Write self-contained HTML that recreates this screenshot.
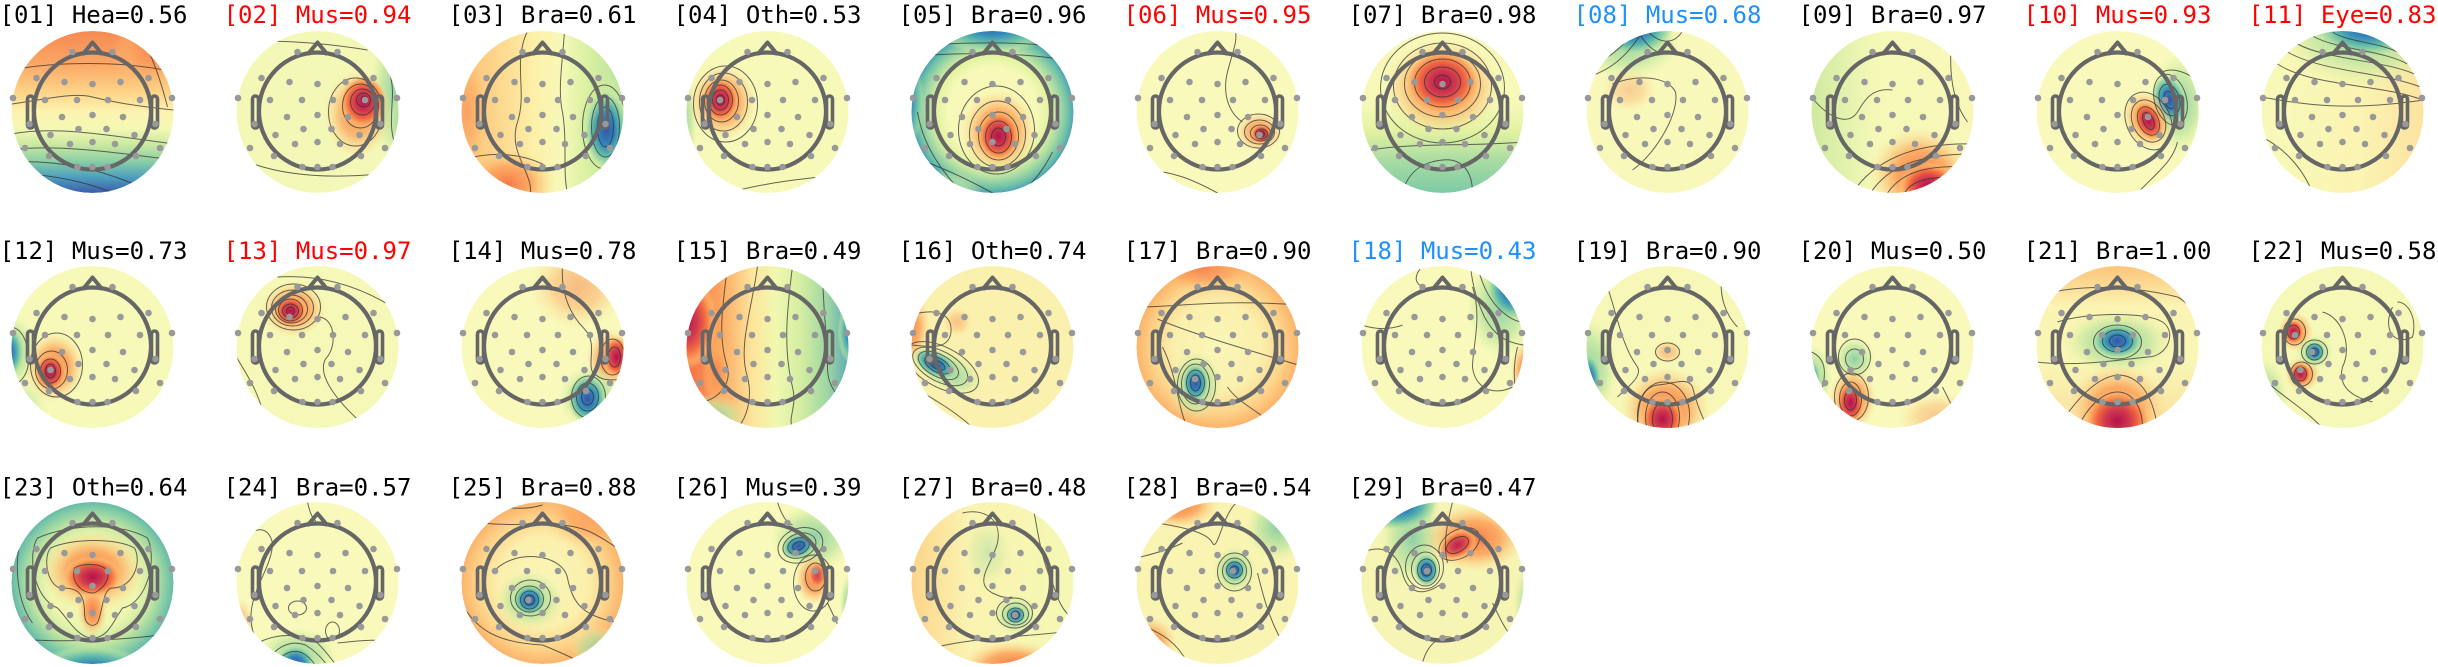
<!DOCTYPE html>
<html><head><meta charset="utf-8"><style>
html,body{margin:0;padding:0;background:#fff;width:2438px;height:667px;overflow:hidden;}
svg{display:block;position:absolute;left:0;top:0;}
.t{font-family:"DejaVu Sans Mono","Liberation Mono",monospace;font-size:24px;text-anchor:middle;}
.k{fill:none;stroke:#333;stroke-width:1;opacity:.75;}
</style></head><body>
<svg width="2438" height="667" viewBox="0 0 2438 667" xmlns="http://www.w3.org/2000/svg" overflow="hidden">
<defs>
<clipPath id="c"><circle r="81"/></clipPath>
<radialGradient id="R"><stop offset="0" stop-color="#b3124b"/><stop offset=".38" stop-color="#d23b4e"/><stop offset=".62" stop-color="#f26a41"/><stop offset=".82" stop-color="#fca85f" stop-opacity=".85"/><stop offset="1" stop-color="#fdd888" stop-opacity="0"/></radialGradient>
<radialGradient id="O"><stop offset="0" stop-color="#f67a4a"/><stop offset=".5" stop-color="#fca55d" stop-opacity=".9"/><stop offset="1" stop-color="#fdd98b" stop-opacity="0"/></radialGradient>
<radialGradient id="B"><stop offset="0" stop-color="#3a54a4"/><stop offset=".38" stop-color="#3385bc"/><stop offset=".62" stop-color="#5cb8a9"/><stop offset=".84" stop-color="#a5daa3" stop-opacity=".75"/><stop offset="1" stop-color="#d5efa0" stop-opacity="0"/></radialGradient>
<radialGradient id="G"><stop offset="0" stop-color="#8ccfa5"/><stop offset=".6" stop-color="#bfe5a0" stop-opacity=".75"/><stop offset="1" stop-color="#e0f3a0" stop-opacity="0"/></radialGradient>
<radialGradient id="u05" href="#B" gradientUnits="userSpaceOnUse" cx="0" cy="0" r="1" gradientTransform="translate(0 -90) scale(65 32)"/>
<radialGradient id="u11g" href="#G" gradientUnits="userSpaceOnUse" cx="0" cy="0" r="1" gradientTransform="translate(22 -85) scale(90 62)"/>
<radialGradient id="u11b" href="#B" gradientUnits="userSpaceOnUse" cx="0" cy="0" r="1" gradientTransform="translate(25 -88) scale(55 34)"/>
<radialGradient id="u23b" href="#B" gradientUnits="userSpaceOnUse" cx="0" cy="0" r="1" gradientTransform="translate(0 92) scale(60 30)"/>
<radialGradient id="u24g" href="#G" gradientUnits="userSpaceOnUse" cx="0" cy="0" r="1" gradientTransform="translate(-20 72) scale(40 27)"/>
<radialGradient id="u24b" href="#B" gradientUnits="userSpaceOnUse" cx="0" cy="0" r="1" gradientTransform="translate(-22 80) scale(20 18)"/>
<radialGradient id="u25g" href="#G" gradientUnits="userSpaceOnUse" cx="0" cy="0" r="1" gradientTransform="translate(55 65) scale(28 22)"/>
<radialGradient id="u27o" href="#O" gradientUnits="userSpaceOnUse" cx="0" cy="0" r="1" gradientTransform="translate(20 82) scale(52 24)"/>
<radialGradient id="u28o" href="#O" gradientUnits="userSpaceOnUse" cx="0" cy="0" r="1" gradientTransform="translate(-70 60) scale(30 27)"/>
<radialGradient id="ring"><stop offset="0" stop-color="#fbf6b4"/><stop offset=".55" stop-color="#f6f9b8"/><stop offset=".7" stop-color="#e2f3a1"/><stop offset=".84" stop-color="#a3d8a4"/><stop offset=".94" stop-color="#6dc0a7"/><stop offset="1" stop-color="#4ea3b6"/></radialGradient>
<radialGradient id="ring2"><stop offset="0" stop-color="#fbf4b2"/><stop offset=".55" stop-color="#eef6b0"/><stop offset=".75" stop-color="#c6e7a0"/><stop offset=".9" stop-color="#8bcfa5"/><stop offset="1" stop-color="#66bba9"/></radialGradient>
<radialGradient id="warm"><stop offset="0" stop-color="#f9f7b8"/><stop offset=".55" stop-color="#fbefac"/><stop offset=".8" stop-color="#fdd58b"/><stop offset="1" stop-color="#fcb46b"/></radialGradient>
<linearGradient id="L01" x1="0" y1="0" x2="0" y2="1"><stop offset="0" stop-color="#f68a52"/><stop offset=".2" stop-color="#fba765"/><stop offset=".38" stop-color="#fdd488"/><stop offset=".5" stop-color="#fdf3b0"/><stop offset=".6" stop-color="#f4f8b4"/><stop offset=".7" stop-color="#cbe9a1"/><stop offset=".8" stop-color="#8dd0a4"/><stop offset=".9" stop-color="#4ea1bd"/><stop offset="1" stop-color="#3b5eaa"/></linearGradient>
<linearGradient id="L03" x1="0" y1="0" x2="1" y2="0"><stop offset="0" stop-color="#fdbd72"/><stop offset=".45" stop-color="#fdf0a8"/><stop offset=".62" stop-color="#f6f9b8"/><stop offset=".8" stop-color="#d6ef9f"/><stop offset="1" stop-color="#b9e2a0"/></linearGradient>
<linearGradient id="L07" x1="0" y1="0" x2="0" y2="1"><stop offset="0" stop-color="#f8f8b8"/><stop offset=".45" stop-color="#f6f9b8"/><stop offset=".62" stop-color="#e3f2a2"/><stop offset=".8" stop-color="#a9dca3"/><stop offset="1" stop-color="#7ccaa6"/></linearGradient>
<linearGradient id="L09" x1="0" y1="0" x2="1" y2="0"><stop offset="0" stop-color="#cfeaa0"/><stop offset=".4" stop-color="#f5f9b8"/><stop offset="1" stop-color="#f9f7b8"/></linearGradient>
<linearGradient id="L11" x1="0" y1="0" x2="1" y2="0"><stop offset="0" stop-color="#f7f9b9"/><stop offset=".6" stop-color="#fbf4b2"/><stop offset="1" stop-color="#fde3a0"/></linearGradient>
<linearGradient id="L15" x1="0" y1="0" x2="1" y2="0"><stop offset="0" stop-color="#f36b45"/><stop offset=".2" stop-color="#fca35c"/><stop offset=".4" stop-color="#fde49a"/><stop offset=".55" stop-color="#f2f8b0"/><stop offset=".72" stop-color="#d0eca0"/><stop offset=".88" stop-color="#9ad4a4"/><stop offset="1" stop-color="#5fa8b4"/></linearGradient>
<linearGradient id="L21" x1="0" y1="0" x2="0" y2="1"><stop offset="0" stop-color="#fdc479"/><stop offset=".25" stop-color="#fbf4b3"/><stop offset=".6" stop-color="#f8f6b5"/><stop offset="1" stop-color="#fce0a0"/></linearGradient>
<linearGradient id="L27" x1="0" y1="0" x2="1" y2="0"><stop offset="0" stop-color="#fcd48a"/><stop offset=".35" stop-color="#fbf3b1"/><stop offset="1" stop-color="#f4f8b4"/></linearGradient>
<g id="hd">
<circle cy="-1" r="58.5" fill="none" stroke="#666" stroke-width="4.2"/>
<path d="M-10,-57.5 L0,-69.5 L10,-57.5" fill="none" stroke="#666" stroke-width="4" stroke-linejoin="round"/>
<rect x="-65" y="-16" width="6" height="32" rx="3" fill="none" stroke="#666" stroke-width="3.6"/>
<rect x="59" y="-16" width="6" height="32" rx="3" fill="none" stroke="#666" stroke-width="3.6"/>
<g fill="#999">
<circle cx="-20" cy="-60" r="3.3"/><circle cx="20" cy="-60" r="3.3"/>
<circle cx="-56" cy="-34" r="3.3"/><circle cx="56" cy="-34" r="3.3"/>
<circle cx="-28" cy="-30" r="3.3"/><circle cx="28" cy="-30" r="3.3"/><circle cx="0" cy="-28" r="3.3"/>
<circle cx="-79.5" cy="-14" r="3.3"/><circle cx="79.5" cy="-14" r="3.3"/>
<circle cx="-47.5" cy="-12" r="3.3"/><circle cx="47.5" cy="-12" r="3.3"/>
<circle cx="-15.5" cy="-12" r="3.3"/><circle cx="15.5" cy="-12" r="3.3"/>
<circle cx="-63" cy="12" r="3.3"/><circle cx="63" cy="12" r="3.3"/>
<circle cx="-30.5" cy="5" r="3.3"/><circle cx="30.5" cy="5" r="3.3"/><circle cx="0" cy="3" r="3.3"/>
<circle cx="-14" cy="17" r="3.3"/><circle cx="14" cy="17" r="3.3"/>
<circle cx="-42" cy="23" r="3.3"/><circle cx="42" cy="23" r="3.3"/>
<circle cx="-67.5" cy="36" r="3.3"/><circle cx="67.5" cy="36" r="3.3"/>
<circle cx="-22.5" cy="32" r="3.3"/><circle cx="22.5" cy="32" r="3.3"/><circle cx="0" cy="30" r="3.3"/>
<circle cx="-43.5" cy="44" r="3.3"/><circle cx="43.5" cy="44" r="3.3"/>
<circle cx="-15" cy="55" r="3.3"/><circle cx="15" cy="55" r="3.3"/><circle cx="0" cy="55" r="3.3"/>
</g>
</g>
</defs>
<rect width="2438" height="667" fill="#fff"/>

<g class="t">
<text x="93.5" y="23" fill="#000">[01] Hea=0.56</text>
<text x="317.5" y="23" fill="#f00">[02] Mus=0.94</text>
<text x="542.5" y="23" fill="#000">[03] Bra=0.61</text>
<text x="767.5" y="23" fill="#000">[04] Oth=0.53</text>
<text x="992.5" y="23" fill="#000">[05] Bra=0.96</text>
<text x="1217.5" y="23" fill="#f00">[06] Mus=0.95</text>
<text x="1442.5" y="23" fill="#000">[07] Bra=0.98</text>
<text x="1667.5" y="23" fill="#1e8fff">[08] Mus=0.68</text>
<text x="1892.5" y="23" fill="#000">[09] Bra=0.97</text>
<text x="2117.5" y="23" fill="#f00">[10] Mus=0.93</text>
<text x="2342.5" y="23" fill="#f00">[11] Eye=0.83</text>
<text x="93.5" y="259" fill="#000">[12] Mus=0.73</text>
<text x="317.5" y="259" fill="#f00">[13] Mus=0.97</text>
<text x="542.5" y="259" fill="#000">[14] Mus=0.78</text>
<text x="767.5" y="259" fill="#000">[15] Bra=0.49</text>
<text x="992.5" y="259" fill="#000">[16] Oth=0.74</text>
<text x="1217.5" y="259" fill="#000">[17] Bra=0.90</text>
<text x="1442.5" y="259" fill="#1e8fff">[18] Mus=0.43</text>
<text x="1667.5" y="259" fill="#000">[19] Bra=0.90</text>
<text x="1892.5" y="259" fill="#000">[20] Mus=0.50</text>
<text x="2117.5" y="259" fill="#000">[21] Bra=1.00</text>
<text x="2342.5" y="259" fill="#000">[22] Mus=0.58</text>
<text x="93.5" y="495.5" fill="#000">[23] Oth=0.64</text>
<text x="317.5" y="495.5" fill="#000">[24] Bra=0.57</text>
<text x="542.5" y="495.5" fill="#000">[25] Bra=0.88</text>
<text x="767.5" y="495.5" fill="#000">[26] Mus=0.39</text>
<text x="992.5" y="495.5" fill="#000">[27] Bra=0.48</text>
<text x="1217.5" y="495.5" fill="#000">[28] Bra=0.54</text>
<text x="1442.5" y="495.5" fill="#000">[29] Bra=0.47</text>
</g>

<!-- 01 -->
<g transform="translate(92.5,112)"><g clip-path="url(#c)">
<circle r="81" fill="url(#L01)"/>
<ellipse cx="60" cy="-60" rx="40" ry="40" fill="url(#O)" opacity=".6"/>
<path class="k" d="M-81,-42 C-40,-50 30,-52 81,-40 M-81,-8 C-50,-12 -20,-20 0,-15 S50,-5 81,-2 M-81,22 C-40,14 10,22 81,32 M-81,38 C-40,32 20,40 81,48 M-81,50 C-40,48 10,55 60,81 M-75,62 C-40,62 0,72 20,81 M50,-75 C62,-50 70,-25 75,-5"/>
</g><use href="#hd"/></g>

<!-- 02 -->
<g transform="translate(317.5,112)"><g clip-path="url(#c)">
<circle r="81" fill="#f4f8b7"/>
<ellipse cx="80" cy="-20" rx="28" ry="75" fill="url(#G)"/>
<ellipse cx="86" cy="10" rx="16" ry="32" fill="url(#G)"/>
<ellipse cx="40" cy="2" rx="34" ry="44" fill="url(#O)" opacity=".85"/>
<ellipse cx="46" cy="-10" rx="24" ry="27" fill="url(#R)"/>
<ellipse class="k" cx="47" cy="-13" rx="3" ry="3"/><ellipse class="k" cx="46" cy="-12" rx="7" ry="7"/><ellipse class="k" cx="45" cy="-10" rx="12" ry="13"/><ellipse class="k" cx="43" cy="-6" rx="18" ry="22"/><ellipse class="k" cx="38" cy="0" rx="27" ry="34"/>
<path class="k" d="M52,-81 C65,-60 75,-40 75,-20 C75,0 70,20 81,40 M62,-81 C75,-60 81,-40 81,-30 M-75,-70 C-40,-72 0,-70 50,-62 M-81,45 C-50,60 0,70 81,60"/>
</g><use href="#hd"/></g>

<!-- 03 -->
<g transform="translate(542.5,112)"><g clip-path="url(#c)">
<circle r="81" fill="url(#L03)"/>
<ellipse cx="-35" cy="72" rx="48" ry="35" fill="url(#O)"/>
<ellipse cx="-75" cy="0" rx="22" ry="60" fill="url(#O)" opacity=".45"/>
<ellipse cx="62" cy="15" rx="30" ry="50" fill="url(#G)"/>
<ellipse cx="64" cy="18" rx="22" ry="40" fill="url(#B)"/>
<ellipse class="k" cx="63" cy="15" rx="8" ry="20"/><ellipse class="k" cx="63" cy="15" rx="14" ry="30"/><ellipse class="k" cx="62" cy="15" rx="22" ry="42"/>
<path class="k" d="M-15,-81 C-30,-50 -15,-20 -25,10 C-35,40 -10,60 -12,81 M22,-81 C20,-50 15,-20 20,0 C25,30 20,60 25,81 M-81,48 C-55,40 -25,40 0,52"/>
</g><use href="#hd"/></g>

<!-- 04 -->
<g transform="translate(767.5,112)"><g clip-path="url(#c)">
<circle r="81" fill="#f7f9b9"/>
<ellipse cx="-85" cy="10" rx="15" ry="50" fill="url(#G)"/>
<ellipse cx="-45" cy="-10" rx="34" ry="38" fill="url(#O)"/>
<ellipse cx="-47" cy="-12" rx="19" ry="23" fill="url(#R)"/>
<ellipse class="k" cx="-47" cy="-12" rx="4" ry="5"/><ellipse class="k" cx="-47" cy="-12" rx="8" ry="10"/><ellipse class="k" cx="-47" cy="-12" rx="12" ry="15"/><ellipse class="k" cx="-46" cy="-11" rx="17" ry="21"/><ellipse class="k" cx="-44" cy="-10" rx="24" ry="29"/><ellipse class="k" cx="-42" cy="-8" rx="32" ry="38"/>
<path class="k" d="M-40,81 C0,70 40,66 81,62"/>
</g><use href="#hd"/></g>

<!-- 05 -->
<g transform="translate(992.5,112)"><g clip-path="url(#c)">
<circle r="81" fill="url(#ring)"/>
<circle r="81" fill="url(#u05)"/>
<ellipse cx="-88" cy="-10" rx="20" ry="45" fill="url(#B)" opacity=".65"/>
<ellipse cx="-50" cy="80" rx="40" ry="22" fill="url(#G)"/>
<ellipse cx="6" cy="20" rx="38" ry="42" fill="url(#O)"/>
<ellipse cx="6" cy="24" rx="22" ry="26" fill="url(#R)"/>
<ellipse class="k" cx="6" cy="25" rx="7" ry="9"/><ellipse class="k" cx="6" cy="25" rx="13" ry="16"/><ellipse class="k" cx="6" cy="24" rx="20" ry="24"/><ellipse class="k" cx="5" cy="22" rx="28" ry="33"/><ellipse class="k" cx="4" cy="18" rx="38" ry="44"/>
<path class="k" d="M-81,-55 C-40,-60 40,-60 81,-50 M-81,-65 C-40,-70 40,-72 81,-62 M-81,45 C-50,55 -20,70 0,81 M-75,0 C-70,30 -55,55 -30,81 M60,40 C50,60 40,70 30,81"/>
</g><use href="#hd"/></g>

<!-- 06 -->
<g transform="translate(1217.5,112)"><g clip-path="url(#c)">
<circle r="81" fill="#f8f9bb"/>
<ellipse cx="42" cy="20" rx="24" ry="20" fill="url(#O)" opacity=".85"/>
<ellipse cx="44" cy="22" rx="11" ry="10" fill="url(#R)"/>
<ellipse class="k" cx="44" cy="22" rx="3" ry="3"/><ellipse class="k" cx="44" cy="22" rx="6" ry="5"/><ellipse class="k" cx="43" cy="21" rx="10" ry="8"/><ellipse class="k" cx="42" cy="20" rx="15" ry="12"/><ellipse class="k" cx="41" cy="19" rx="21" ry="17"/>
<path class="k" d="M25,10 C10,0 5,-20 10,-40 C15,-60 20,-70 18,-81 M-81,60 C-50,55 -20,70 0,81"/>
</g><use href="#hd"/></g>

<!-- 07 -->
<g transform="translate(1442.5,112)"><g clip-path="url(#c)">
<circle r="81" fill="url(#L07)"/>
<ellipse cx="0" cy="-25" rx="58" ry="48" fill="url(#O)"/>
<ellipse cx="0" cy="-30" rx="38" ry="33" fill="url(#R)"/>
<ellipse class="k" cx="0" cy="-30" rx="8" ry="7"/><ellipse class="k" cx="0" cy="-30" rx="18" ry="15"/><ellipse class="k" cx="0" cy="-29" rx="28" ry="24"/><ellipse class="k" cx="0" cy="-28" rx="38" ry="33"/><ellipse class="k" cx="0" cy="-26" rx="49" ry="43"/><ellipse class="k" cx="0" cy="-24" rx="62" ry="55"/>
<path class="k" d="M-81,40 C-40,30 20,35 81,30 M-40,81 C-35,60 -20,50 0,48 C20,46 30,60 30,81"/>
</g><use href="#hd"/></g>

<!-- 08 -->
<g transform="translate(1667.5,112)"><g clip-path="url(#c)">
<circle r="81" fill="#f9f8bb"/>
<ellipse cx="-38" cy="-22" rx="28" ry="22" fill="url(#O)" opacity=".35"/>
<ellipse cx="-40" cy="-70" rx="55" ry="38" fill="url(#G)"/>
<ellipse cx="-35" cy="-84" rx="42" ry="28" fill="url(#B)"/>
<path class="k" d="M-81,-35 C-60,-40 -40,-55 -25,-81 M-81,-45 C-65,-50 -45,-62 -35,-81 M-81,-55 C-70,-60 -55,-70 -45,-81 M-30,-81 C-20,-65 -10,-55 5,-60 M-20,-81 C-10,-70 5,-65 15,-81 M-55,-28 C-30,-38 0,-36 8,-20 C12,0 -10,40 -35,58 M81,30 C70,35 68,45 75,50"/>
</g><use href="#hd"/></g>

<!-- 09 -->
<g transform="translate(1892.5,112)"><g clip-path="url(#c)">
<circle r="81" fill="url(#L09)"/>
<ellipse cx="28" cy="62" rx="52" ry="46" fill="url(#O)"/>
<ellipse cx="36" cy="74" rx="30" ry="24" fill="url(#R)"/>
<path class="k" d="M-40,81 C-20,50 20,30 81,32 M-22,81 C-5,55 25,42 81,42 M-5,81 C8,62 30,52 81,55 M12,81 C18,70 35,62 81,66 M-81,-15 C-65,5 -45,15 -35,0 C-28,-12 -20,-25 0,-22 M60,-81 C55,-40 60,-10 75,10"/>
</g><use href="#hd"/></g>

<!-- 10 -->
<g transform="translate(2117.5,112)"><g clip-path="url(#c)">
<circle r="81" fill="#f8f9bb"/>
<ellipse cx="62" cy="-8" rx="30" ry="50" fill="url(#G)"/>
<ellipse cx="52" cy="-12" rx="17" ry="26" fill="url(#B)" transform="rotate(-15 52 -12)"/>
<ellipse cx="30" cy="8" rx="24" ry="31" fill="url(#O)" transform="rotate(-25 30 8)"/>
<ellipse cx="31" cy="9" rx="14" ry="21" fill="url(#R)" transform="rotate(-25 31 9)"/>
<g transform="rotate(-25 31 9)"><ellipse class="k" cx="31" cy="9" rx="5" ry="9"/><ellipse class="k" cx="31" cy="9" rx="10" ry="15"/><ellipse class="k" cx="31" cy="9" rx="16" ry="22"/><ellipse class="k" cx="31" cy="9" rx="22" ry="30"/></g>
<g transform="rotate(-15 52 -12)"><ellipse class="k" cx="52" cy="-12" rx="5" ry="9"/><ellipse class="k" cx="52" cy="-12" rx="10" ry="16"/><ellipse class="k" cx="53" cy="-12" rx="16" ry="26"/></g>
<path class="k" d="M20,81 C40,60 55,50 60,30 M81,-30 C70,-40 55,-45 45,-40"/>
</g><use href="#hd"/></g>

<!-- 11 -->
<g transform="translate(2342.5,112)"><g clip-path="url(#c)">
<circle r="81" fill="url(#L11)"/>
<circle r="81" fill="url(#u11g)"/>
<circle r="81" fill="url(#u11b)"/>
<path class="k" d="M-10,-80 C5,-70 35,-70 55,-60 M-30,-76 C-5,-62 40,-62 65,-48 M-45,-68 C-15,-52 40,-52 72,-38 M-55,-60 C-20,-40 40,-40 78,-25 M-65,-48 C-30,-25 40,-28 80,-12 M-81,-15 C-40,-8 0,0 81,-12 M-81,25 C-60,35 -40,55 -30,81"/>
</g><use href="#hd"/></g>

<!-- 12 -->
<g transform="translate(92.5,347)"><g clip-path="url(#c)">
<circle r="81" fill="#f6f9b8"/>
<ellipse cx="-75" cy="60" rx="30" ry="30" fill="url(#G)" opacity=".6"/>
<ellipse cx="-82" cy="5" rx="28" ry="38" fill="url(#G)"/>
<ellipse cx="-86" cy="5" rx="18" ry="28" fill="url(#B)"/>
<ellipse cx="-38" cy="20" rx="30" ry="35" fill="url(#O)"/>
<ellipse cx="-42" cy="25" rx="16" ry="19" fill="url(#R)"/>
<ellipse class="k" cx="-42" cy="24" rx="5" ry="7"/><ellipse class="k" cx="-42" cy="24" rx="10" ry="12"/><ellipse class="k" cx="-41" cy="23" rx="16" ry="19"/><ellipse class="k" cx="-36" cy="18" rx="26" ry="32"/>
<path class="k" d="M-81,-20 C-70,-18 -65,-5 -64,10 C-63,25 -70,35 -81,40 M-81,55 C-60,60 -40,70 -25,81"/>
</g><use href="#hd"/></g>

<!-- 13 -->
<g transform="translate(317.5,347)"><g clip-path="url(#c)">
<circle r="81" fill="#f5f8b6"/>
<ellipse cx="-24" cy="-38" rx="32" ry="28" fill="url(#O)"/>
<ellipse cx="-27" cy="-36" rx="17" ry="16" fill="url(#R)"/>
<ellipse class="k" cx="-27" cy="-36" rx="4" ry="4"/><ellipse class="k" cx="-27" cy="-36" rx="8" ry="7"/><ellipse class="k" cx="-27" cy="-37" rx="12" ry="11"/><ellipse class="k" cx="-26" cy="-38" rx="16" ry="14"/><ellipse class="k" cx="-25" cy="-39" rx="21" ry="18"/><ellipse class="k" cx="-24" cy="-40" rx="27" ry="23"/>
<path class="k" d="M-40,-70 C-10,-72 30,-68 75,-40 M2,-30 C18,-28 20,0 8,12 C-2,30 25,60 50,81 M-81,10 C-70,30 -60,40 -50,81"/>
</g><use href="#hd"/></g>

<!-- 14 -->
<g transform="translate(542.5,347)"><g clip-path="url(#c)">
<circle r="81" fill="#f8f9bb"/>
<ellipse cx="35" cy="-60" rx="48" ry="42" fill="url(#O)" opacity=".5"/>
<ellipse cx="68" cy="12" rx="24" ry="30" fill="url(#O)"/>
<ellipse cx="74" cy="10" rx="14" ry="21" fill="url(#R)"/>
<ellipse cx="48" cy="50" rx="32" ry="32" fill="url(#G)"/>
<ellipse cx="45" cy="52" rx="20" ry="25" fill="url(#B)"/>
<ellipse class="k" cx="72" cy="10" rx="6" ry="10"/><ellipse class="k" cx="70" cy="10" rx="12" ry="18"/>
<ellipse class="k" cx="45" cy="50" rx="6" ry="8"/><ellipse class="k" cx="45" cy="50" rx="11" ry="14"/><ellipse class="k" cx="46" cy="50" rx="17" ry="21"/>
<path class="k" d="M20,-81 C18,-50 30,-30 42,-18 C55,-5 45,15 50,25 C55,30 60,35 81,32"/>
</g><use href="#hd"/></g>

<!-- 15 -->
<g transform="translate(767.5,347)"><g clip-path="url(#c)">
<circle r="81" fill="url(#L15)"/>
<ellipse cx="-82" cy="-25" rx="32" ry="48" fill="url(#R)"/>
<ellipse cx="-50" cy="25" rx="15" ry="35" fill="url(#O)" opacity=".6"/>
<ellipse cx="86" cy="-15" rx="16" ry="34" fill="url(#B)"/>
<ellipse cx="-60" cy="72" rx="40" ry="25" fill="url(#G)"/>
<path class="k" d="M-40,-81 C-45,-40 -50,-10 -40,20 C-35,40 -55,60 -81,55 M-10,-81 C-15,-40 -30,0 -20,30 C-15,50 -20,70 -30,81 M25,-81 C20,-40 15,0 25,40 C30,60 20,70 25,81 M55,-81 C55,-40 60,-10 60,20 C60,40 70,50 81,55 M-81,40 C-60,60 -40,75 -20,81"/>
</g><use href="#hd"/></g>

<!-- 16 -->
<g transform="translate(992.5,347)"><g clip-path="url(#c)">
<circle r="81" fill="#fbf1ae"/>
<ellipse cx="-84" cy="-20" rx="22" ry="38" fill="url(#O)"/>
<ellipse cx="-72" cy="78" rx="30" ry="24" fill="url(#O)"/>
<ellipse cx="-35" cy="-25" rx="15" ry="15" fill="url(#O)" opacity=".4"/>
<ellipse cx="-45" cy="24" rx="40" ry="20" fill="url(#G)" transform="rotate(28 -45 24)"/>
<ellipse cx="-57" cy="17" rx="24" ry="13" fill="url(#B)" transform="rotate(28 -57 17)"/>
<g transform="rotate(28 -55 18)"><ellipse class="k" cx="-55" cy="18" rx="8" ry="4"/><ellipse class="k" cx="-55" cy="18" rx="14" ry="7"/><ellipse class="k" cx="-54" cy="18" rx="22" ry="11"/><ellipse class="k" cx="-52" cy="18" rx="30" ry="15"/><ellipse class="k" cx="-50" cy="18" rx="40" ry="20"/></g>
<path class="k" d="M-81,-32 C-55,-40 -38,-32 -42,-12 C-46,2 -60,0 -81,-2 M30,-81 C50,-70 70,-58 81,-52 M-81,40 C-60,50 -30,70 -20,81"/>
</g><use href="#hd"/></g>

<!-- 17 -->
<g transform="translate(1217.5,347)"><g clip-path="url(#c)">
<circle r="81" fill="url(#warm)"/>
<ellipse cx="-15" cy="-78" rx="60" ry="25" fill="url(#O)" opacity=".8"/>
<ellipse cx="-22" cy="38" rx="27" ry="35" fill="url(#G)"/>
<ellipse cx="-22" cy="36" rx="14" ry="20" fill="url(#B)"/>
<ellipse class="k" cx="-22" cy="36" rx="5" ry="8"/><ellipse class="k" cx="-22" cy="36" rx="9" ry="13"/><ellipse class="k" cx="-22" cy="37" rx="14" ry="20"/><ellipse class="k" cx="-21" cy="38" rx="19" ry="26"/>
<path class="k" d="M-81,-40 C-40,-40 0,-48 81,-42 M-60,-28 C-30,-15 20,0 81,18 M-55,0 C-40,30 -40,60 -30,81 M10,40 C20,55 35,60 60,81"/>
</g><use href="#hd"/></g>

<!-- 18 -->
<g transform="translate(1442.5,347)"><g clip-path="url(#c)">
<circle r="81" fill="#f8f9bb"/>
<ellipse cx="84" cy="25" rx="16" ry="32" fill="url(#O)"/>
<ellipse cx="58" cy="-40" rx="34" ry="52" fill="url(#G)"/>
<ellipse cx="70" cy="-58" rx="26" ry="32" fill="url(#B)"/>
<path class="k" d="M28,-81 C30,-60 35,-45 42,-30 C50,-15 60,-5 81,-2 M35,-81 C40,-60 48,-45 60,-35 C68,-28 75,-25 81,-25 M45,-81 C50,-65 58,-55 70,-50 M-81,-22 C-60,-15 -45,-20 -40,-22 M-20,-81 C-30,-70 -28,-62 -15,-58 M30,-60 C40,-30 30,0 30,20 C32,40 50,50 70,40 M75,0 C70,20 70,50 81,60"/>
</g><use href="#hd"/></g>

<!-- 19 -->
<g transform="translate(1667.5,347)"><g clip-path="url(#c)">
<circle r="81" fill="#f7f8b8"/>
<ellipse cx="-78" cy="22" rx="28" ry="52" fill="url(#G)"/>
<ellipse cx="-80" cy="32" rx="14" ry="26" fill="url(#B)"/>
<ellipse cx="-2" cy="62" rx="45" ry="42" fill="url(#O)"/>
<ellipse cx="-5" cy="72" rx="22" ry="24" fill="url(#R)"/>
<ellipse cx="0" cy="5" rx="16" ry="12" fill="url(#O)" opacity=".5"/>
<ellipse class="k" cx="0" cy="5" rx="12" ry="9"/>
<ellipse class="k" cx="-5" cy="72" rx="10" ry="16"/><ellipse class="k" cx="-5" cy="70" rx="17" ry="25"/><ellipse class="k" cx="-4" cy="68" rx="26" ry="33"/>
<path class="k" d="M-30,81 C-30,55 -25,40 -10,38 C10,36 20,30 25,40 C30,60 35,70 40,81 M-60,-60 C-50,-30 -45,0 -30,20 C-25,30 -40,40 -50,50 M55,-75 C50,-50 60,-30 70,-20"/>
</g><use href="#hd"/></g>

<!-- 20 -->
<g transform="translate(1892.5,347)"><g clip-path="url(#c)">
<circle r="81" fill="#f8f9bb"/>
<ellipse cx="45" cy="70" rx="40" ry="25" fill="url(#O)" opacity=".4"/>
<ellipse cx="-38" cy="12" rx="20" ry="22" fill="url(#G)"/>
<ellipse cx="-80" cy="30" rx="20" ry="32" fill="url(#G)"/>
<ellipse cx="-82" cy="30" rx="10" ry="18" fill="url(#B)" opacity=".8"/>
<ellipse cx="-40" cy="52" rx="24" ry="32" fill="url(#O)"/>
<ellipse cx="-42" cy="56" rx="14" ry="22" fill="url(#R)"/>
<ellipse class="k" cx="-42" cy="53" rx="6" ry="10"/><ellipse class="k" cx="-42" cy="52" rx="11" ry="17"/><ellipse class="k" cx="-41" cy="50" rx="17" ry="24"/>
<ellipse class="k" cx="-38" cy="12" rx="9" ry="10"/><ellipse class="k" cx="-38" cy="10" rx="16" ry="18"/>
<path class="k" d="M50,40 C60,60 65,70 70,81 M-81,5 C-70,10 -65,20 -70,40"/>
</g><use href="#hd"/></g>

<!-- 21 -->
<g transform="translate(2117.5,347)"><g clip-path="url(#c)">
<circle r="81" fill="url(#L21)"/>
<ellipse cx="0" cy="-5" rx="55" ry="32" fill="url(#G)"/>
<ellipse cx="0" cy="-6" rx="26" ry="18" fill="url(#B)"/>
<ellipse cx="0" cy="62" rx="50" ry="45" fill="url(#O)"/>
<ellipse cx="0" cy="74" rx="34" ry="32" fill="url(#R)"/>
<ellipse class="k" cx="0" cy="-6" rx="8" ry="6"/><ellipse class="k" cx="0" cy="-6" rx="15" ry="11"/><ellipse class="k" cx="0" cy="-5" rx="24" ry="17"/>
<path class="k" d="M-60,-25 C-30,-35 30,-35 45,-25 C60,-15 50,10 30,10 C10,12 -40,20 -81,15 M-60,81 C-40,50 -20,30 0,28 C20,28 35,45 40,81 M-40,81 C-30,60 -15,45 0,45 C15,45 25,60 25,81 M-81,-50 C-40,-65 20,-60 60,-50 C70,-45 81,-30 81,-30"/>
</g><use href="#hd"/></g>

<!-- 22 -->
<g transform="translate(2342.5,347)"><g clip-path="url(#c)">
<circle r="81" fill="#f5f8b6"/>
<ellipse cx="-80" cy="50" rx="25" ry="40" fill="url(#G)"/>
<ellipse cx="-47" cy="-15" rx="18" ry="20" fill="url(#O)"/>
<ellipse cx="-49" cy="-15" rx="11" ry="13" fill="url(#R)"/>
<ellipse cx="-40" cy="27" rx="18" ry="18" fill="url(#O)"/>
<ellipse cx="-42" cy="27" rx="11" ry="12" fill="url(#R)"/>
<ellipse cx="-28" cy="5" rx="19" ry="18" fill="url(#G)"/>
<ellipse cx="-28" cy="5" rx="11" ry="11" fill="url(#B)"/>
<ellipse class="k" cx="-49" cy="-15" rx="6" ry="7"/><ellipse class="k" cx="-48" cy="-15" rx="11" ry="13"/>
<ellipse class="k" cx="-42" cy="27" rx="6" ry="7"/><ellipse class="k" cx="-41" cy="27" rx="11" ry="12"/>
<ellipse class="k" cx="-28" cy="5" rx="4" ry="4"/><ellipse class="k" cx="-28" cy="5" rx="8" ry="8"/><ellipse class="k" cx="-28" cy="5" rx="13" ry="12"/>
<path class="k" d="M50,-40 C40,-20 50,0 70,-10 C75,-30 65,-45 55,-45 M-81,30 C-60,50 -40,60 -20,81 M-20,-35 C0,-30 10,0 0,20 C-5,40 10,50 30,55"/>
</g><use href="#hd"/></g>

<!-- 23 -->
<g transform="translate(92.5,583)"><g clip-path="url(#c)">
<circle r="81" fill="url(#ring2)"/>
<circle r="81" fill="url(#u23b)"/>
<ellipse cx="0" cy="-12" rx="52" ry="40" fill="url(#O)"/>
<ellipse cx="0" cy="28" rx="15" ry="26" fill="url(#O)"/>
<ellipse cx="0" cy="-6" rx="30" ry="21" fill="url(#R)"/>
<path class="k" d="M-42,-35 C-20,-45 25,-45 42,-35 C50,-20 40,5 20,5 C10,5 10,30 5,40 C0,45 -8,42 -8,30 C-8,10 -15,5 -30,5 C-45,5 -50,-25 -42,-35Z M-18,-15 C-10,-20 10,-20 15,-12 C18,0 5,10 0,10 C-10,10 -22,0 -18,-15Z M-55,-45 C-20,-60 30,-60 55,-45 C65,-25 55,20 30,25 C20,40 15,55 0,55 C-15,55 -25,35 -35,25 C-60,15 -65,-30 -55,-45Z M-81,55 C-40,60 30,58 81,50 M-70,-50 C-80,-20 -75,20 -60,40"/>
</g><use href="#hd"/></g>

<!-- 24 -->
<g transform="translate(317.5,583)"><g clip-path="url(#c)">
<circle r="81" fill="#f8f9bb"/>
<ellipse cx="-78" cy="40" rx="15" ry="25" fill="url(#O)" opacity=".5"/>
<circle r="81" fill="url(#u24g)"/>
<circle r="81" fill="url(#u24b)"/>
<ellipse class="k" cx="-20" cy="25" rx="9" ry="7"/><ellipse class="k" cx="15" cy="48" rx="7" ry="9"/>
<path class="k" d="M-60,60 C-40,50 -20,50 0,60 C10,70 15,78 18,81 M-50,78 C-40,62 -25,57 -12,62 C-2,68 4,75 8,80 M-40,80 C-35,70 -25,66 -15,70 C-8,74 -5,78 -3,81 M-81,-40 C-65,-55 -50,-60 -45,-40 C-45,-10 -81,20 -60,60 M20,60 C40,58 60,55 81,60 M-10,-81 C-8,-72 -6,-65 0,-60"/>
</g><use href="#hd"/></g>

<!-- 25 -->
<g transform="translate(542.5,583)"><g clip-path="url(#c)">
<circle r="81" fill="url(#warm)"/>
<ellipse cx="55" cy="-72" rx="55" ry="40" fill="url(#O)"/>
<ellipse cx="62" cy="-78" rx="40" ry="28" fill="url(#O)"/>
<circle r="81" fill="url(#u25g)" opacity=".8"/>
<ellipse cx="-13" cy="17" rx="34" ry="30" fill="url(#G)"/>
<ellipse cx="-13" cy="17" rx="17" ry="16" fill="url(#B)"/>
<ellipse class="k" cx="-13" cy="17" rx="5" ry="5"/><ellipse class="k" cx="-13" cy="17" rx="9" ry="9"/><ellipse class="k" cx="-13" cy="16" rx="14" ry="13"/><ellipse class="k" cx="-12" cy="15" rx="20" ry="18"/>
<path class="k" d="M-50,-10 C-30,-35 20,-30 25,-5 C30,20 40,35 81,40 M-60,-60 C-20,-55 20,-65 50,-50 C60,-45 75,-35 81,-30 M-81,20 C-65,50 -40,60 0,62 C20,70 30,75 40,80 M-55,-81 C-40,-75 -20,-72 0,-78"/>
</g><use href="#hd"/></g>

<!-- 26 -->
<g transform="translate(767.5,583)"><g clip-path="url(#c)">
<circle r="81" fill="#f8f9bb"/>
<ellipse cx="45" cy="-45" rx="42" ry="34" fill="url(#G)"/>
<ellipse cx="31" cy="-37" rx="18" ry="13" fill="url(#B)" transform="rotate(-20 31 -37)"/>
<ellipse cx="47" cy="-4" rx="20" ry="26" fill="url(#O)"/>
<ellipse cx="50" cy="-8" rx="9" ry="13" fill="url(#R)" opacity=".6"/>
<ellipse cx="82" cy="20" rx="10" ry="30" fill="url(#G)"/>
<g transform="rotate(-20 31 -37)"><ellipse class="k" cx="31" cy="-37" rx="6" ry="4"/><ellipse class="k" cx="31" cy="-37" rx="11" ry="8"/><ellipse class="k" cx="32" cy="-37" rx="17" ry="12"/><ellipse class="k" cx="33" cy="-37" rx="23" ry="17"/></g>
<ellipse class="k" cx="48" cy="-6" rx="10" ry="14"/><ellipse class="k" cx="46" cy="0" rx="20" ry="28"/>
<path class="k" d="M10,-81 C15,-65 20,-60 25,-58 M60,-81 C65,-65 75,-55 81,-50 M60,20 C70,40 75,55 81,60"/>
</g><use href="#hd"/></g>

<!-- 27 -->
<g transform="translate(992.5,583)"><g clip-path="url(#c)">
<circle r="81" fill="url(#L27)"/>
<circle r="81" fill="url(#u27o)"/>
<ellipse cx="-5" cy="-30" rx="25" ry="35" fill="url(#G)" opacity=".4"/>
<ellipse cx="23" cy="32" rx="22" ry="20" fill="url(#G)"/>
<ellipse cx="23" cy="32" rx="11" ry="10" fill="url(#B)"/>
<ellipse class="k" cx="23" cy="32" rx="4" ry="4"/><ellipse class="k" cx="23" cy="32" rx="8" ry="7"/><ellipse class="k" cx="23" cy="31" rx="13" ry="11"/><ellipse class="k" cx="22" cy="30" rx="18" ry="15"/>
<path class="k" d="M-81,72 C-40,55 20,55 81,48 M-30,-70 C-10,-75 10,-65 5,-40 C0,-20 -20,0 0,10 C10,15 15,15 20,14 M40,-81 C45,-50 50,-20 60,0 C65,15 70,30 81,35"/>
</g><use href="#hd"/></g>

<!-- 28 -->
<g transform="translate(1217.5,583)"><g clip-path="url(#c)">
<circle r="81" fill="#f9f4b2"/>
<ellipse cx="-40" cy="-78" rx="42" ry="24" fill="url(#O)"/>
<circle r="81" fill="url(#u28o)"/>
<ellipse cx="60" cy="-55" rx="32" ry="34" fill="url(#G)"/>
<ellipse cx="17" cy="-13" rx="22" ry="24" fill="url(#G)"/>
<ellipse cx="17" cy="-13" rx="12" ry="13" fill="url(#B)"/>
<ellipse class="k" cx="17" cy="-13" rx="4" ry="4"/><ellipse class="k" cx="17" cy="-13" rx="8" ry="8"/><ellipse class="k" cx="17" cy="-12" rx="12" ry="13"/><ellipse class="k" cx="17" cy="-11" rx="17" ry="19"/>
<path class="k" d="M-60,-60 C-30,-55 -10,-50 -5,-40 C0,-30 5,-70 20,-81 M-81,40 C-55,50 -40,60 -30,80 M40,-10 C45,10 50,30 60,50 C65,60 70,70 75,75 M-81,-25 C-60,-30 -45,-35 -35,-40"/>
</g><use href="#hd"/></g>

<!-- 29 -->
<g transform="translate(1442.5,583)"><g clip-path="url(#c)">
<circle r="81" fill="#f7f5b4"/>
<ellipse cx="85" cy="20" rx="15" ry="40" fill="url(#G)" opacity=".7"/>
<ellipse cx="-30" cy="-45" rx="32" ry="48" fill="url(#G)"/>
<ellipse cx="-45" cy="-80" rx="42" ry="28" fill="url(#B)"/>
<ellipse cx="-16" cy="-13" rx="13" ry="17" fill="url(#B)"/>
<ellipse cx="32" cy="-45" rx="52" ry="34" fill="url(#O)"/>
<ellipse cx="15" cy="-38" rx="21" ry="14" fill="url(#R)" opacity=".9" transform="rotate(-30 15 -38)"/>
<ellipse class="k" cx="-16" cy="-13" rx="5" ry="6"/><ellipse class="k" cx="-16" cy="-13" rx="9" ry="11"/><ellipse class="k" cx="-17" cy="-14" rx="14" ry="17"/><ellipse class="k" cx="-18" cy="-16" rx="19" ry="22"/>
<g transform="rotate(-30 15 -38)"><ellipse class="k" cx="15" cy="-38" rx="12" ry="7"/><ellipse class="k" cx="17" cy="-38" rx="22" ry="14"/></g>
<path class="k" d="M-81,-30 C-60,-40 -45,-30 -40,-10 C-35,10 -20,15 0,0 M-20,80 C-15,60 0,50 10,55 M10,-81 C5,-60 0,-40 5,-20 M-81,-45 C-65,-55 -55,-65 -50,-81 M50,20 C60,40 65,55 81,60"/>
</g><use href="#hd"/></g>

</svg>
</body></html>
